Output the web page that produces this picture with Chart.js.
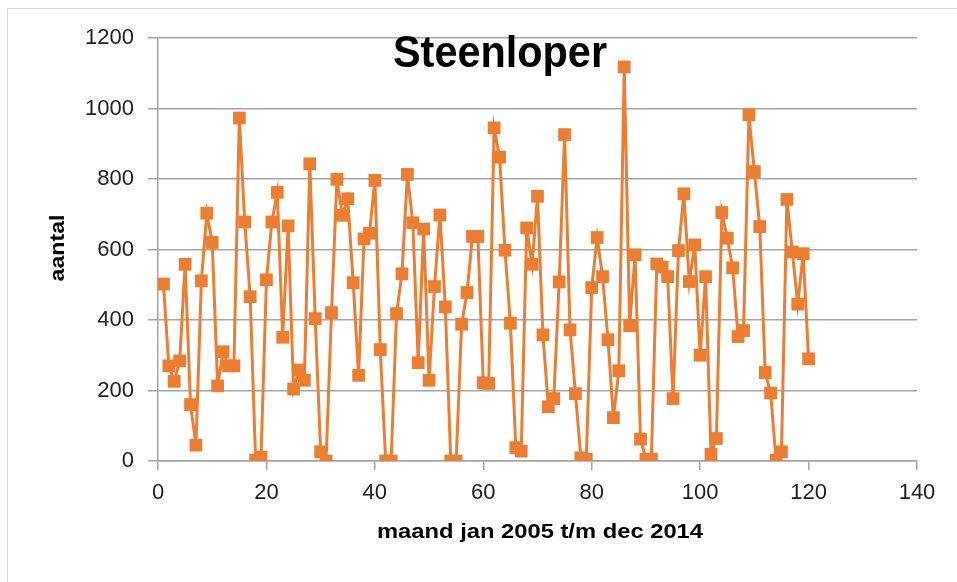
<!DOCTYPE html>
<html>
<head>
<meta charset="utf-8">
<script src="https://cdn.jsdelivr.net/npm/chart.js@4.4.0/dist/chart.umd.min.js"></script>
<style>
  html, body { margin: 0; padding: 0; background: #fff; }
  #wrap { position: relative; width: 957px; height: 582px; }
</style>
</head>
<body>
<div id="wrap"><canvas id="grafica" width="957" height="582"></canvas></div>
<script>
// aantal steenlopers per maand, jan 2005 t/m dec 2014 (maand 1..120)
var aantallen = [
  502, 270, 226, 284, 558, 160, 45, 511, 703, 620, 213, 310,
  270, 270, 973, 678, 466, 2, 11, 514, 678, 762, 351, 667,
  204, 258, 229, 843, 404, 26, 0, 421, 799, 697, 744, 506,
  243, 630, 646, 796, 316, 0, 0, 418, 531, 813, 676, 279,
  658, 229, 495, 698, 437, 0, 0, 388, 478, 637, 637, 222,
  220, 945, 862, 598, 391, 38, 28, 661, 558, 751, 358, 154,
  177, 508, 926, 372, 191, 9, 5, 492, 634, 523, 344, 123,
  256, 1118, 384, 585, 62, 5, 5, 559, 550, 523, 177, 597,
  758, 509, 613, 300, 523, 19, 64, 705, 632, 548, 353, 370,
  982, 821, 665, 251, 193, 2, 26, 742, 593, 445, 588, 290
];
var maanden = aantallen.map(function (v, i) { return i + 1; });
var titel = 'Steenloper';
var xTitel = 'maand jan 2005 t/m dec 2014';
var yTitel = 'aantal';

var oranje = '#ED7D31';
var grijs = '#a6a6a6';
var lettertype = '"Liberation Sans", Arial, sans-serif';

var punten = maanden.map(function (m, i) { return { x: m, y: aantallen[i] }; });

// tekst op een vaste breedte zetten (Calibri is smaller dan Arial)
function tekstOpBreedte(ctx, tekst, x, y, breedte) {
  var w = ctx.measureText(tekst).width;
  ctx.save();
  ctx.translate(x, y);
  ctx.scale(breedte / w, 1);
  ctx.fillText(tekst, 0, 0);
  ctx.restore();
}

// titels en kader zelf tekenen (titel staat in het plotvlak, zoals in Excel)
var tekstPlugin = {
  id: 'teksten',
  beforeDraw: function (chart) {
    var ctx = chart.ctx;
    ctx.save();
    ctx.strokeStyle = '#d9d9d9';
    ctx.lineWidth = 1;
    ctx.strokeRect(7.5, 8.5, 960, 590);
    ctx.restore();
  },
  afterDraw: function (chart) {
    var ctx = chart.ctx;
    ctx.save();
    ctx.fillStyle = '#000';
    ctx.textAlign = 'center';
    ctx.textBaseline = 'alphabetic';
    ctx.font = 'bold 44px ' + lettertype;
    tekstOpBreedte(ctx, titel, 500, 67, 214);
    ctx.font = 'bold 21px ' + lettertype;
    tekstOpBreedte(ctx, xTitel, 540, 538, 326);
    ctx.translate(64, 248);
    ctx.rotate(-Math.PI / 2);
    ctx.font = 'bold 21px ' + lettertype;
    tekstOpBreedte(ctx, yTitel, 0, 0, 67);
    ctx.restore();
  }
};

new Chart(document.getElementById('grafica'), {
  type: 'line',
  data: {
    datasets: [{
      label: titel,
      data: punten,
      borderColor: oranje,
      backgroundColor: oranje,
      borderWidth: 3,
      pointStyle: 'rect',
      pointRadius: 9,
      pointHoverRadius: 9,
      pointBorderWidth: 0,
      pointBackgroundColor: oranje,
      tension: 0,
      fill: false
    }]
  },
  options: {
    responsive: false,
    animation: false,
    layout: { padding: { top: 38, right: 40, left: 0, bottom: 0 } },
    plugins: {
      legend: { display: false },
      title: { display: false },
      tooltip: { enabled: false }
    },
    scales: {
      x: {
        type: 'linear',
        min: 0,
        max: 140,
        ticks: {
          stepSize: 20, color: '#222', padding: 10, maxRotation: 0,
          font: { size: 22, family: lettertype },
          callback: function (v) { return String(v); }
        },
        grid: { drawOnChartArea: false, drawTicks: true, tickLength: 9, color: grijs, lineWidth: 1.5 },
        border: { display: true, color: grijs, width: 1.5 },
        afterFit: function (s) { s.height = 121; }
      },
      y: {
        min: 0,
        max: 1200,
        ticks: {
          stepSize: 200, color: '#222', padding: 14,
          font: { size: 22, family: lettertype },
          callback: function (v) { return String(v); }
        },
        grid: { color: grijs, lineWidth: 1.5, tickLength: 10 },
        border: { display: true, color: grijs, width: 1.5 },
        afterFit: function (s) { s.width = 158; }
      }
    }
  },
  plugins: [tekstPlugin]
});
</script>
</body>
</html>
